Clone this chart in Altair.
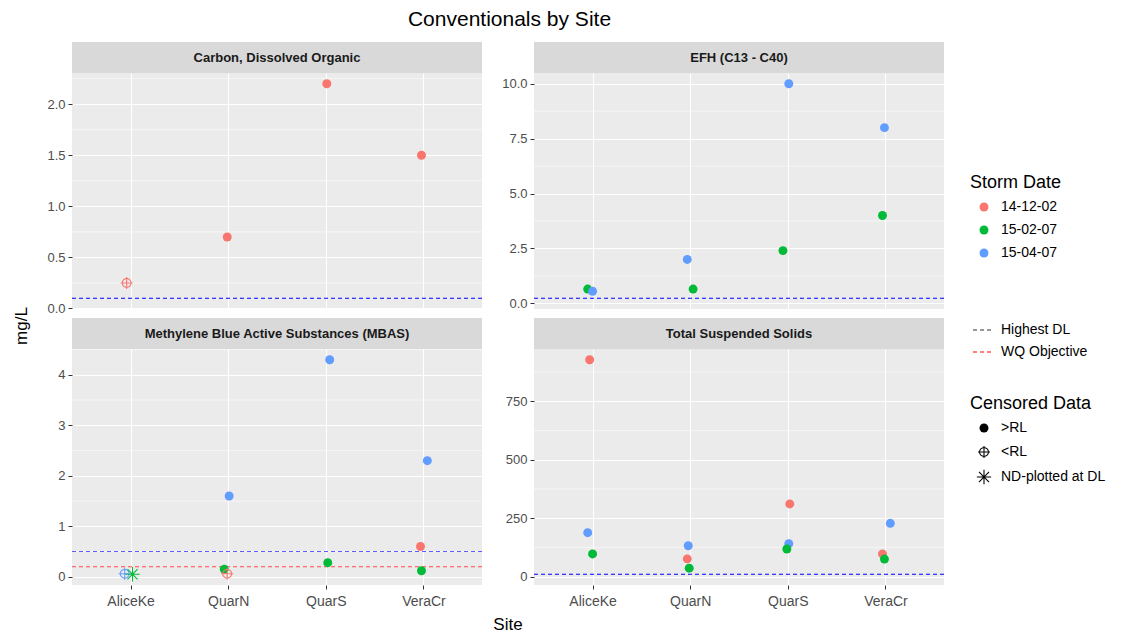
import math
import altair as alt
import pandas as pd

# ---------------- data ----------------
TITLE = "Conventionals by Site"
SITES = ["AliceKe", "QuarN", "QuarS", "VeraCr"]
DATES = ["14-12-02", "15-02-07", "15-04-07"]
DATE_COLORS = ["#F8766D", "#00BA38", "#619CFF"]
CENSOR = [">RL", "<RL", "ND-plotted at DL"]
LINE_TYPES = ["Highest DL", "WQ Objective"]
LINE_LEGEND_COLORS = ["#333333", "#FF0000"]

PANEL_TITLES = ["Carbon, Dissolved Organic", "EFH (C13 - C40)",
                "Methylene Blue Active Substances (MBAS)", "Total Suspended Solids"]

# Carbon, Dissolved Organic
doc_site = ["AliceKe", "QuarN", "QuarS", "VeraCr"]
doc_date = ["14-12-02", "14-12-02", "14-12-02", "14-12-02"]
doc_value = [0.25, 0.70, 2.20, 1.50]
doc_censor = ["<RL", ">RL", ">RL", ">RL"]
doc_jitter = [-0.04, -0.01, 0.01, -0.02]
doc_dl = [0.10]
doc_wq = []

# EFH (C13 - C40)
efh_site = ["AliceKe", "AliceKe", "QuarN", "QuarN", "QuarS", "QuarS", "VeraCr", "VeraCr"]
efh_date = ["15-02-07", "15-04-07", "15-04-07", "15-02-07", "15-04-07", "15-02-07", "15-04-07", "15-02-07"]
efh_value = [0.65, 0.55, 2.0, 0.65, 10.0, 2.4, 8.0, 4.0]
efh_censor = [">RL"] * 8
efh_jitter = [-0.05, 0.0, -0.03, 0.03, 0.01, -0.05, -0.01, -0.03]
efh_dl = [0.23]
efh_wq = []

# MBAS
mbas_site = ["AliceKe", "AliceKe", "QuarN", "QuarN", "QuarN", "QuarS", "QuarS", "VeraCr", "VeraCr", "VeraCr"]
mbas_date = ["15-04-07", "15-02-07", "15-02-07", "14-12-02", "15-04-07", "15-04-07", "15-02-07", "15-04-07", "14-12-02", "15-02-07"]
mbas_value = [0.06, 0.05, 0.15, 0.06, 1.6, 4.3, 0.28, 2.3, 0.6, 0.12]
mbas_censor = ["<RL", "ND-plotted at DL", ">RL", "<RL", ">RL", ">RL", ">RL", ">RL", ">RL", ">RL"]
mbas_jitter = [-0.06, 0.02, -0.04, -0.01, 0.01, 0.04, 0.02, 0.04, -0.03, -0.02]
mbas_dl = [0.5]
mbas_wq = [0.2]

# Total Suspended Solids
tss_site = ["AliceKe", "AliceKe", "AliceKe", "QuarN", "QuarN", "QuarN", "QuarS", "QuarS", "QuarS", "VeraCr", "VeraCr", "VeraCr"]
tss_date = ["14-12-02", "15-04-07", "15-02-07", "15-04-07", "14-12-02", "15-02-07", "14-12-02", "15-04-07", "15-02-07", "15-04-07", "14-12-02", "15-02-07"]
tss_value = [928, 188, 97, 132, 76, 36, 311, 141, 118, 228, 97, 75]
tss_censor = [">RL"] * 12
tss_jitter = [-0.03, -0.05, 0.0, -0.02, -0.03, -0.01, 0.02, 0.01, -0.01, 0.05, -0.03, -0.01]
tss_dl = [10]
tss_wq = []

# axis ticks
doc_ticks = [0.0, 0.5, 1.0, 1.5, 2.0]
doc_minor = [0.25, 0.75, 1.25, 1.75, 2.25]
efh_ticks = [0.0, 2.5, 5.0, 7.5, 10.0]
efh_minor = [1.25, 3.75, 6.25, 8.75]
mbas_ticks = [0, 1, 2, 3, 4]
mbas_minor = [0.5, 1.5, 2.5, 3.5, 4.5]
tss_ticks = [0, 250, 500, 750]
tss_minor = [125, 375, 625, 875]

FONT = "Liberation Sans"
W, H = 410, 236
STRIP = 31


# ---------------- shapes ----------------
def fmt(v):
    return f"{v:.3f}"


def bar(x1, y1, x2, y2, w):
    L = math.hypot(x2 - x1, y2 - y1)
    dx, dy = (x2 - x1) / L, (y2 - y1) / L
    nx, ny = -dy * w, dx * w
    pts = [(x1 + nx, y1 + ny), (x2 + nx, y2 + ny), (x2 - nx, y2 - ny), (x1 - nx, y1 - ny)]
    return "M" + " L".join(f"{fmt(a)},{fmt(b)}" for a, b in pts) + " Z"


def ring(r_out, r_in, n=32):
    outer = [(r_out * math.cos(2 * math.pi * k / n), r_out * math.sin(2 * math.pi * k / n)) for k in range(n)]
    inner = [(r_in * math.cos(-2 * math.pi * k / n), r_in * math.sin(-2 * math.pi * k / n)) for k in range(n)]
    p = "M" + " L".join(f"{fmt(a)},{fmt(b)}" for a, b in outer) + " Z "
    p += "M" + " L".join(f"{fmt(a)},{fmt(b)}" for a, b in inner) + " Z"
    return p


HW = 0.12
ro, ri = 1.1, 0.86
crosshair = ring(ro, ri) + " " + " ".join([
    bar(-ri + 0.02, 0, ri - 0.02, 0, HW), bar(0, -ri + 0.02, 0, ri - 0.02, HW),
    bar(ro, 0, 1.35, 0, HW), bar(-1.35, 0, -ro, 0, HW),
    bar(0, ro, 0, 1.35, HW), bar(0, -1.35, 0, -ro, HW)])
A = 1.6
D = A / math.sqrt(2)
asterisk = " ".join([bar(-A, 0, A, 0, HW), bar(0, -A, 0, A, HW),
                     bar(-D, -D, D, D, HW), bar(-D, D, D, -D, HW)])
SHAPES = ["circle", crosshair, asterisk]

# ---------------- legends ----------------
color_legend = alt.Legend(title="Storm Date", orient="none", legendX=898, legendY=101,
                          titleFontSize=18, titleFontWeight="normal", titleFont=FONT,
                          titleColor="black", labelFont=FONT, labelFontSize=14, labelColor="black",
                          symbolSize=80, rowPadding=9, labelOffset=10, symbolOffset=7,
                          titlePadding=8)
shape_legend = alt.Legend(title="Censored Data", orient="none", legendX=898, legendY=322,
                          titleFontSize=18, titleFontWeight="normal", titleFont=FONT,
                          titleColor="black", labelFont=FONT, labelFontSize=14, labelColor="black",
                          symbolSize=80, rowPadding=10, labelOffset=10, symbolOffset=7,
                          symbolFillColor="black", symbolStrokeColor="black", symbolStrokeWidth=0,
                          titlePadding=8)
line_legend = alt.Legend(title=None, orient="none", legendX=900, legendY=246,
                         labelFont=FONT, labelFontSize=14, labelColor="black",
                         symbolSize=400, symbolStrokeWidth=1.2, symbolOpacity=1,
                         rowPadding=4, labelOffset=7, symbolOffset=0)

color_enc = alt.Color("date:N", scale=alt.Scale(domain=DATES, range=DATE_COLORS), legend=color_legend)
shape_enc = alt.Shape("censor:N", scale=alt.Scale(domain=CENSOR, range=SHAPES), legend=shape_legend)


def panel(title, site, date, value, censor, jitter, dl, wq, ticks, minor, yfmt,
          bottom, dl_color="blue", wq_color="red", extra=None):
    df = pd.DataFrame({"site": site, "date": date, "value": value,
                       "censor": censor, "jitter": jitter})
    df["x"] = [SITES.index(s) + 1 + j for s, j in zip(site, jitter)]
    allv = list(value) + list(dl) + list(wq)
    lo, hi = min(allv), max(allv)
    pad = 0.05 * (hi - lo)
    yscale = alt.Scale(domain=[lo - pad, hi + pad], nice=False, zero=False)
    yaxis = alt.Axis(values=ticks, format=yfmt, title=None, grid=True,
                     minExtent=42, maxExtent=42, labelPadding=3)
    xscale = alt.Scale(domain=[0.4, 4.6], nice=False, zero=False)
    label_expr = "[" + ",".join(f"'{s}'" for s in SITES) + "][round(datum.value) - 1]"
    if bottom:
        xaxis = alt.Axis(values=[1, 2, 3, 4], labelExpr=label_expr, title=None, grid=True,
                         labelPadding=5, labelFontSize=14)
    else:
        xaxis = alt.Axis(values=[1, 2, 3, 4], labels=False, ticks=False, title=None, grid=True)

    minor_layer = alt.Chart(pd.DataFrame({"v": minor})).mark_rule(
        color="white", strokeWidth=0.55).encode(y=alt.Y("v:Q", scale=yscale, axis=yaxis))

    layers = [minor_layer]
    if dl:
        layers.append(alt.Chart(pd.DataFrame({"dl": dl})).mark_rule(
            color=dl_color, strokeDash=[4, 3], strokeWidth=1.1).encode(
            y=alt.Y("dl:Q", scale=yscale, axis=yaxis)))
    if wq:
        layers.append(alt.Chart(pd.DataFrame({"wq": wq})).mark_rule(
            color=wq_color, strokeDash=[4, 3], strokeWidth=1.1).encode(
            y=alt.Y("wq:Q", scale=yscale, axis=yaxis)))

    pts = alt.Chart(df).mark_point(filled=True, size=80, opacity=1, strokeWidth=0).encode(
        x=alt.X("x:Q", scale=xscale, axis=xaxis),
        y=alt.Y("value:Q", scale=yscale, axis=yaxis),
        color=color_enc, shape=shape_enc)
    layers.append(pts)

    tdf = pd.DataFrame({"label": [title]})
    strip = alt.Chart(tdf).mark_rect(color="#D9D9D9").encode(
        x=alt.value(0), x2=alt.value(W), y=alt.value(-STRIP), y2=alt.value(0))
    strip_text = alt.Chart(tdf).mark_text(font=FONT, fontSize=13, fontWeight="bold",
                                          color="#1A1A1A").encode(
        x=alt.value(W / 2), y=alt.value(-STRIP / 2), text="label:N")
    layers += [strip, strip_text]
    if extra is not None:
        layers += extra
    return alt.layer(*layers).properties(width=W, height=H)


# y-axis title "mg/L" and x-axis title "Site"
ylab = alt.Chart(pd.DataFrame({"t": ["mg/L"]})).mark_text(
    font=FONT, fontSize=17, angle=270, color="black").encode(
    x=alt.value(-50), y=alt.value(-23), text="t:N")
xlab = alt.Chart(pd.DataFrame({"t": ["Site"]})).mark_text(
    font=FONT, fontSize=17, color="black").encode(
    x=alt.value(-26), y=alt.value(H + 40), text="t:N")

# legend carrier for line types: a tiny separate view whose clipped rules are never seen
lt_df = pd.DataFrame({"lt": LINE_TYPES})
line_leg_chart = alt.Chart(lt_df).mark_rule(strokeDash=[4, 3], clip=True).encode(
    y=alt.value(-10000),
    strokeDash=alt.StrokeDash("lt:N", scale=alt.Scale(domain=LINE_TYPES, range=[[4, 3], [4, 3]]),
                              legend=line_legend),
    stroke=alt.Stroke("lt:N", scale=alt.Scale(domain=LINE_TYPES, range=LINE_LEGEND_COLORS),
                      legend=line_legend)
).properties(width=1, height=1, view=alt.ViewBackground(fill="white", stroke="white"))

p1 = panel(PANEL_TITLES[0], doc_site, doc_date, doc_value, doc_censor, doc_jitter, doc_dl, doc_wq,
           doc_ticks, doc_minor, ".1f", False)
p2 = panel(PANEL_TITLES[1], efh_site, efh_date, efh_value, efh_censor, efh_jitter, efh_dl, efh_wq,
           efh_ticks, efh_minor, ".1f", False)
p3 = panel(PANEL_TITLES[2], mbas_site, mbas_date, mbas_value, mbas_censor, mbas_jitter, mbas_dl, mbas_wq,
           mbas_ticks, mbas_minor, "d", True, dl_color="#5C5CFF", wq_color="#FF4A4A",
           extra=[ylab])
p4 = panel(PANEL_TITLES[3], tss_site, tss_date, tss_value, tss_censor, tss_jitter, tss_dl, tss_wq,
           tss_ticks, tss_minor, "d", True, extra=[xlab])

chart = alt.concat(
    p1, p2, p3, p4, line_leg_chart, columns=2, spacing={"row": 40, "column": 52}, bounds="flush",
).properties(
    title=alt.TitleParams(TITLE, font=FONT, fontSize=21, fontWeight="normal", color="black",
                          anchor="middle", offset=12, dx=-50),
    padding={"left": 13, "top": 9, "right": 0, "bottom": 0},
    background="white",
).configure_view(
    fill="#EBEBEB", stroke=None
).configure_axis(
    labelFont=FONT, labelFontSize=13, labelColor="#4D4D4D",
    tickColor="#333333", tickSize=4, tickWidth=1,
    domain=False, gridColor="white", gridWidth=1.1, gridOpacity=1,
).configure_legend(
    padding=0
)

chart.save("out.html", embed_options={"renderer": "svg", "actions": False})
